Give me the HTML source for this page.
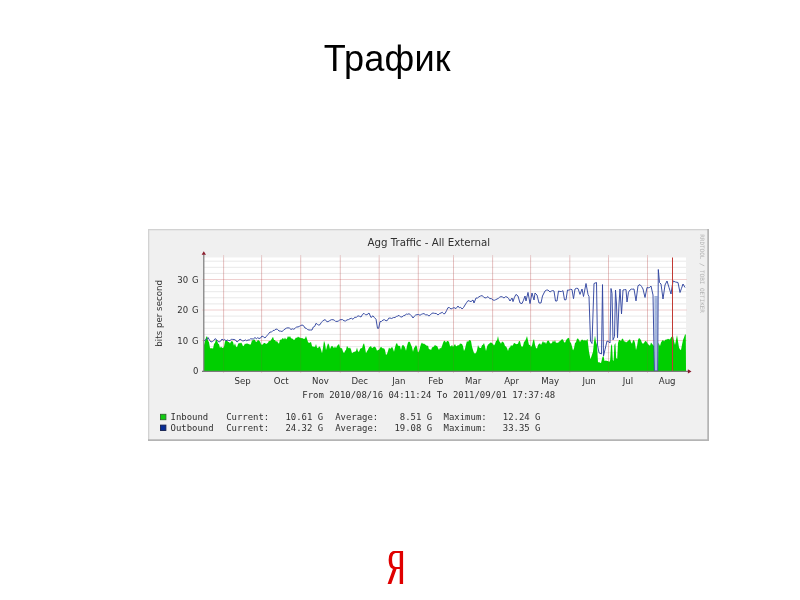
<!DOCTYPE html>
<html lang="ru"><head><meta charset="utf-8"><title>Трафик</title>
<style>
html,body{margin:0;padding:0;background:#fff;}
body{width:800px;height:600px;position:relative;overflow:hidden;font-family:"Liberation Sans",sans-serif;}
.title{position:absolute;left:0;top:38.9px;width:774.6px;text-align:center;font-size:36.1px;letter-spacing:0.2px;line-height:40px;color:#000;white-space:nowrap;}
.logo{position:absolute;left:374.9px;top:542.2px;width:40px;height:54px;text-align:center;font-family:'DejaVu Sans','Liberation Sans',sans-serif;font-weight:200;font-size:44px;line-height:54px;color:#e00000;transform:scaleX(0.63);transform-origin:50% 50%;text-shadow:1px 0 0 #e00000,2px 0 0 #e00000,3px 0 0 #e00000;}
</style></head><body>
<div class="title">Трафик</div>
<svg width="800" height="600" viewBox="0 0 800 600" style="position:absolute;left:0;top:0;filter:blur(0.3px)">
<rect x="148" y="229" width="561" height="212" fill="#b4b4b4"/>
<rect x="148" y="229" width="559.2" height="210.2" fill="#d2d2d2"/>
<rect x="149.3" y="230.3" width="557.9" height="208.9" fill="#f0f0f0"/>
<rect x="204" y="257.5" width="482" height="113.5" fill="#ffffff"/>
<line x1="204" y1="364.90" x2="686" y2="364.90" stroke="#e9e9e9" stroke-width="1"/>
<line x1="204" y1="358.80" x2="686" y2="358.80" stroke="#e9e9e9" stroke-width="1"/>
<line x1="204" y1="352.70" x2="686" y2="352.70" stroke="#e9e9e9" stroke-width="1"/>
<line x1="204" y1="346.60" x2="686" y2="346.60" stroke="#e9e9e9" stroke-width="1"/>
<line x1="204" y1="334.40" x2="686" y2="334.40" stroke="#e9e9e9" stroke-width="1"/>
<line x1="204" y1="328.30" x2="686" y2="328.30" stroke="#e9e9e9" stroke-width="1"/>
<line x1="204" y1="322.20" x2="686" y2="322.20" stroke="#e9e9e9" stroke-width="1"/>
<line x1="204" y1="316.10" x2="686" y2="316.10" stroke="#e9e9e9" stroke-width="1"/>
<line x1="204" y1="303.90" x2="686" y2="303.90" stroke="#e9e9e9" stroke-width="1"/>
<line x1="204" y1="297.80" x2="686" y2="297.80" stroke="#e9e9e9" stroke-width="1"/>
<line x1="204" y1="291.70" x2="686" y2="291.70" stroke="#e9e9e9" stroke-width="1"/>
<line x1="204" y1="285.60" x2="686" y2="285.60" stroke="#e9e9e9" stroke-width="1"/>
<line x1="204" y1="273.40" x2="686" y2="273.40" stroke="#e9e9e9" stroke-width="1"/>
<line x1="204" y1="267.30" x2="686" y2="267.30" stroke="#e9e9e9" stroke-width="1"/>
<line x1="204" y1="261.20" x2="686" y2="261.20" stroke="#e9e9e9" stroke-width="1"/>
<line x1="202" y1="340.50" x2="687" y2="340.50" stroke="#f0d0d0" stroke-width="1"/>
<line x1="202" y1="310.00" x2="687" y2="310.00" stroke="#f0d0d0" stroke-width="1"/>
<line x1="202" y1="279.50" x2="687" y2="279.50" stroke="#f0d0d0" stroke-width="1"/>
<line x1="223.60" y1="255" x2="223.60" y2="373" stroke="#c85050" stroke-opacity="0.26" stroke-width="0.9"/>
<line x1="261.60" y1="255" x2="261.60" y2="373" stroke="#c85050" stroke-opacity="0.26" stroke-width="0.9"/>
<line x1="300.70" y1="255" x2="300.70" y2="373" stroke="#c85050" stroke-opacity="0.26" stroke-width="0.9"/>
<line x1="340.30" y1="255" x2="340.30" y2="373" stroke="#c85050" stroke-opacity="0.26" stroke-width="0.9"/>
<line x1="379.20" y1="255" x2="379.20" y2="373" stroke="#c85050" stroke-opacity="0.26" stroke-width="0.9"/>
<line x1="418.30" y1="255" x2="418.30" y2="373" stroke="#c85050" stroke-opacity="0.26" stroke-width="0.9"/>
<line x1="453.50" y1="255" x2="453.50" y2="373" stroke="#c85050" stroke-opacity="0.26" stroke-width="0.9"/>
<line x1="492.60" y1="255" x2="492.60" y2="373" stroke="#c85050" stroke-opacity="0.26" stroke-width="0.9"/>
<line x1="530.60" y1="255" x2="530.60" y2="373" stroke="#c85050" stroke-opacity="0.26" stroke-width="0.9"/>
<line x1="569.80" y1="255" x2="569.80" y2="373" stroke="#c85050" stroke-opacity="0.26" stroke-width="0.9"/>
<line x1="608.50" y1="255" x2="608.50" y2="373" stroke="#c85050" stroke-opacity="0.26" stroke-width="0.9"/>
<line x1="647.50" y1="255" x2="647.50" y2="373" stroke="#c85050" stroke-opacity="0.26" stroke-width="0.9"/>
<path d="M204.0,345.0 L205.0,341.3 L206.0,337.6 L207.0,336.0 L208.0,340.6 L209.0,342.3 L210.0,348.0 L211.0,348.4 L212.0,347.9 L213.0,348.7 L214.0,343.9 L215.0,342.7 L216.0,339.7 L217.0,339.9 L218.0,343.6 L219.0,344.2 L220.0,348.0 L221.0,346.4 L222.0,347.7 L223.0,348.0 L224.0,346.8 L225.0,341.5 L226.0,340.5 L227.0,339.9 L228.0,342.0 L229.0,342.0 L230.0,343.5 L231.0,341.6 L232.0,341.0 L233.0,342.0 L234.0,345.7 L235.0,343.3 L236.0,346.5 L237.0,347.2 L238.0,344.2 L239.0,342.8 L240.0,343.5 L241.0,342.5 L242.0,343.7 L243.0,346.3 L244.0,345.5 L245.0,343.4 L246.0,344.2 L247.0,343.0 L248.0,344.2 L249.0,343.8 L250.0,345.0 L251.0,343.7 L252.0,340.3 L253.0,340.5 L254.0,339.2 L255.0,340.3 L256.0,342.0 L257.0,341.6 L258.0,339.7 L259.0,340.7 L260.0,341.6 L261.0,344.0 L262.0,345.0 L263.0,344.1 L264.0,342.9 L265.0,343.0 L266.0,344.1 L267.0,343.6 L268.0,342.7 L269.0,340.8 L270.0,341.2 L271.0,340.0 L272.0,338.5 L273.0,336.7 L274.0,339.9 L275.0,340.0 L276.0,341.8 L277.0,341.0 L278.0,342.7 L279.0,343.7 L280.0,339.4 L281.0,340.0 L282.0,338.7 L283.0,338.0 L284.0,339.5 L285.0,337.6 L286.0,339.5 L287.0,338.6 L288.0,335.9 L289.0,337.5 L290.0,336.0 L291.0,338.3 L292.0,338.5 L293.0,339.0 L294.0,340.3 L295.0,339.0 L296.0,337.4 L297.0,338.1 L298.0,336.5 L299.0,337.4 L300.0,337.5 L301.0,338.2 L302.0,338.0 L303.0,338.5 L304.0,339.0 L305.0,338.6 L306.0,336.0 L307.0,338.9 L308.0,342.0 L309.0,342.9 L310.0,342.5 L311.0,342.1 L312.0,346.1 L313.0,346.7 L314.0,346.4 L315.0,346.9 L316.0,344.0 L317.0,347.4 L318.0,348.3 L319.0,346.6 L320.0,346.7 L321.0,349.5 L322.0,353.3 L323.0,347.7 L324.0,340.8 L325.0,343.5 L326.0,350.0 L327.0,346.5 L328.0,343.3 L329.0,344.8 L330.0,349.0 L331.0,346.7 L332.0,345.7 L333.0,346.7 L334.0,348.3 L335.0,346.3 L336.0,348.3 L337.0,345.9 L338.0,345.0 L339.0,344.0 L340.0,347.6 L341.0,348.3 L342.0,348.3 L343.0,351.4 L344.0,353.3 L345.0,351.0 L346.0,349.8 L347.0,345.8 L348.0,347.6 L349.0,348.4 L350.0,347.5 L351.0,349.5 L352.0,353.3 L353.0,352.4 L354.0,351.7 L355.0,351.7 L356.0,351.1 L357.0,347.5 L358.0,351.4 L359.0,351.7 L360.0,349.2 L361.0,348.1 L362.0,348.3 L363.0,344.7 L364.0,343.3 L365.0,347.2 L366.0,353.3 L367.0,351.3 L368.0,349.8 L369.0,347.5 L370.0,346.8 L371.0,346.0 L372.0,348.3 L373.0,347.4 L374.0,346.7 L375.0,346.7 L376.0,348.1 L377.0,350.7 L378.0,350.0 L379.0,349.7 L380.0,347.9 L381.0,346.7 L382.0,347.7 L383.0,348.5 L384.0,348.3 L385.0,349.9 L386.0,355.0 L387.0,354.1 L388.0,351.1 L389.0,347.5 L390.0,348.7 L391.0,348.2 L392.0,346.7 L393.0,348.8 L394.0,351.7 L395.0,347.4 L396.0,344.0 L397.0,343.0 L398.0,345.7 L399.0,345.8 L400.0,346.1 L401.0,350.0 L402.0,345.8 L403.0,345.0 L404.0,345.8 L405.0,347.5 L406.0,350.8 L407.0,346.0 L408.0,342.5 L409.0,341.5 L410.0,342.2 L411.0,345.0 L412.0,347.0 L413.0,351.7 L414.0,347.9 L415.0,346.7 L416.0,345.0 L417.0,346.9 L418.0,352.5 L419.0,351.2 L420.0,347.3 L421.0,344.0 L422.0,342.6 L423.0,344.0 L424.0,343.5 L425.0,344.4 L426.0,345.0 L427.0,346.0 L428.0,345.5 L429.0,349.4 L430.0,349.0 L431.0,350.3 L432.0,347.5 L433.0,347.0 L434.0,346.6 L435.0,344.7 L436.0,346.0 L437.0,345.7 L438.0,348.0 L439.0,350.0 L440.0,347.7 L441.0,348.6 L442.0,346.0 L443.0,343.0 L444.0,340.8 L445.0,341.0 L446.0,342.8 L447.0,341.1 L448.0,341.0 L449.0,342.1 L450.0,346.0 L451.0,346.5 L452.0,344.8 L453.0,347.0 L454.0,345.6 L455.0,344.0 L456.0,346.2 L457.0,346.1 L458.0,345.0 L459.0,345.5 L460.0,343.5 L461.0,343.7 L462.0,344.0 L463.0,346.2 L464.0,351.0 L465.0,348.8 L466.0,344.5 L467.0,341.0 L468.0,342.1 L469.0,340.3 L470.0,339.9 L471.0,341.0 L472.0,346.7 L473.0,350.0 L474.0,352.9 L475.0,353.4 L476.0,353.0 L477.0,350.2 L478.0,345.0 L479.0,347.3 L480.0,348.0 L481.0,348.0 L482.0,345.2 L483.0,344.7 L484.0,343.0 L485.0,346.4 L486.0,351.0 L487.0,346.8 L488.0,344.4 L489.0,344.0 L490.0,342.8 L491.0,342.4 L492.0,343.0 L493.0,344.1 L494.0,345.5 L495.0,344.0 L496.0,341.1 L497.0,340.4 L498.0,336.0 L499.0,341.0 L500.0,342.0 L501.0,343.8 L502.0,341.5 L503.0,342.0 L504.0,342.9 L505.0,346.0 L506.0,346.6 L507.0,348.1 L508.0,351.0 L509.0,347.8 L510.0,347.5 L511.0,345.0 L512.0,345.9 L513.0,345.0 L514.0,343.0 L515.0,343.3 L516.0,344.3 L517.0,344.0 L518.0,343.7 L519.0,341.0 L520.0,341.3 L521.0,345.6 L522.0,347.0 L523.0,346.1 L524.0,342.0 L525.0,341.1 L526.0,339.0 L527.0,336.0 L528.0,340.4 L529.0,345.0 L530.0,344.7 L531.0,347.0 L532.0,345.5 L533.0,341.0 L534.0,339.0 L535.0,344.7 L536.0,348.0 L537.0,348.6 L538.0,344.9 L539.0,344.0 L540.0,343.3 L541.0,345.1 L542.0,343.0 L543.0,341.0 L544.0,342.9 L545.0,341.7 L546.0,344.0 L547.0,341.5 L548.0,340.6 L549.0,341.0 L550.0,343.3 L551.0,343.6 L552.0,343.0 L553.0,340.6 L554.0,342.3 L555.0,340.0 L556.0,342.9 L557.0,342.6 L558.0,343.0 L559.0,341.4 L560.0,341.2 L561.0,340.0 L562.0,339.2 L563.0,339.4 L564.0,342.0 L565.0,342.8 L566.0,340.4 L567.0,338.7 L568.0,338.3 L569.0,337.7 L570.0,342.1 L571.0,343.0 L572.0,346.5 L573.0,350.6 L574.0,348.3 L575.0,343.0 L576.0,342.2 L577.0,338.7 L578.0,338.6 L579.0,339.9 L580.0,342.0 L581.0,340.5 L582.0,339.6 L583.0,340.0 L584.0,340.7 L585.0,339.7 L586.0,341.0 L587.5,338.7 L589.0,351.7 L590.5,359.3 L591.8,355.2 L593.0,351.7 L594.0,342.1 L595.0,335.5 L596.0,341.9 L597.0,345.0 L598.0,362.5 L599.0,362.1 L600.0,362.7 L601.0,363.0 L602.5,357.0 L603.5,356.0 L604.5,361.0 L606.0,360.5 L607.0,361.1 L608.0,361.0 L609.3,362.0 L610.2,360.0 L611.0,346.0 L612.0,344.0 L612.8,360.0 L613.6,361.0 L614.4,345.0 L615.4,343.0 L616.2,358.0 L617.2,359.0 L618.0,343.0 L619.0,340.0 L620.0,340.0 L621.0,341.2 L622.0,338.8 L623.0,338.7 L624.0,341.6 L625.0,341.2 L626.0,342.5 L627.0,341.8 L628.0,340.9 L629.0,340.0 L630.0,339.3 L631.0,342.2 L632.0,343.7 L633.0,340.6 L634.0,340.0 L635.0,343.0 L636.0,350.0 L637.0,346.2 L638.0,340.0 L639.0,338.0 L640.0,338.7 L641.0,340.3 L642.0,342.9 L643.0,343.7 L644.0,343.0 L645.0,341.2 L646.0,341.0 L647.0,342.4 L648.0,343.9 L649.0,345.0 L650.0,345.7 L651.0,342.6 L652.0,343.7 L653.0,345.1 L654.0,346.0 L654.4,371.0 L658.0,371.0 L658.3,342.5 L660.0,346.0 L661.0,342.5 L662.0,341.0 L663.0,339.8 L664.0,341.4 L665.0,340.0 L666.0,339.6 L667.0,339.4 L668.0,338.7 L669.0,339.3 L670.0,339.5 L671.0,337.5 L672.0,336.5 L673.0,336.0 L674.0,341.0 L675.0,345.0 L676.0,340.0 L677.0,335.0 L678.0,341.3 L679.0,347.5 L680.0,349.5 L681.0,350.0 L682.0,344.8 L683.0,340.0 L684.0,337.4 L685.0,334.5 L685.8,334.5 L686.0,371.0 L204.0,371.0 Z" fill="#00cf00"/>
<line x1="223.60" y1="257.5" x2="223.60" y2="371" stroke="#a04040" stroke-opacity="0.16" stroke-width="0.9"/>
<line x1="261.60" y1="257.5" x2="261.60" y2="371" stroke="#a04040" stroke-opacity="0.16" stroke-width="0.9"/>
<line x1="300.70" y1="257.5" x2="300.70" y2="371" stroke="#a04040" stroke-opacity="0.16" stroke-width="0.9"/>
<line x1="340.30" y1="257.5" x2="340.30" y2="371" stroke="#a04040" stroke-opacity="0.16" stroke-width="0.9"/>
<line x1="379.20" y1="257.5" x2="379.20" y2="371" stroke="#a04040" stroke-opacity="0.16" stroke-width="0.9"/>
<line x1="418.30" y1="257.5" x2="418.30" y2="371" stroke="#a04040" stroke-opacity="0.16" stroke-width="0.9"/>
<line x1="453.50" y1="257.5" x2="453.50" y2="371" stroke="#a04040" stroke-opacity="0.16" stroke-width="0.9"/>
<line x1="492.60" y1="257.5" x2="492.60" y2="371" stroke="#a04040" stroke-opacity="0.16" stroke-width="0.9"/>
<line x1="530.60" y1="257.5" x2="530.60" y2="371" stroke="#a04040" stroke-opacity="0.16" stroke-width="0.9"/>
<line x1="569.80" y1="257.5" x2="569.80" y2="371" stroke="#a04040" stroke-opacity="0.16" stroke-width="0.9"/>
<line x1="608.50" y1="257.5" x2="608.50" y2="371" stroke="#a04040" stroke-opacity="0.16" stroke-width="0.9"/>
<line x1="647.50" y1="257.5" x2="647.50" y2="371" stroke="#a04040" stroke-opacity="0.16" stroke-width="0.9"/>
<rect x="654.4" y="296" width="3.3" height="75" fill="#a4b6dc"/>
<path d="M204.0,341.0 L205.3,339.8 L206.7,339.5 L208.0,337.5 L209.5,340.1 L211.0,342.0 L212.3,341.6 L213.7,340.6 L215.0,338.7 L216.3,339.4 L217.7,341.0 L219.0,342.0 L220.5,341.3 L222.0,339.0 L223.3,340.2 L224.7,339.5 L226.0,340.8 L227.3,340.0 L228.7,340.5 L230.0,340.5 L231.3,339.4 L232.7,339.4 L234.0,339.5 L235.5,340.0 L237.0,342.0 L238.5,340.8 L240.0,339.0 L241.3,340.1 L242.7,340.9 L244.0,340.8 L245.3,339.9 L246.7,340.7 L248.0,340.0 L249.3,340.0 L250.7,338.7 L252.0,339.0 L253.5,338.9 L255.0,337.5 L256.3,338.7 L257.7,337.7 L259.0,338.5 L260.5,338.1 L262.0,336.0 L263.5,336.8 L265.0,338.0 L266.5,336.2 L268.0,334.5 L270.0,332.0 L271.5,332.1 L273.0,330.5 L274.5,330.3 L276.0,329.0 L277.5,329.4 L279.0,331.0 L280.5,331.1 L282.0,331.5 L283.5,330.3 L285.0,329.0 L286.5,328.1 L288.0,327.8 L289.5,328.1 L291.0,329.5 L292.3,328.8 L293.7,329.2 L295.0,328.5 L296.5,326.9 L298.0,327.0 L299.3,326.4 L300.7,325.6 L302.0,325.0 L303.5,325.6 L305.0,328.0 L306.3,328.4 L307.7,329.6 L309.0,330.0 L310.5,330.0 L312.0,330.0 L313.3,327.0 L314.7,326.4 L316.0,323.3 L317.3,324.3 L318.7,325.1 L320.0,324.7 L321.3,322.4 L322.7,321.1 L324.0,320.0 L325.3,319.7 L326.7,321.6 L328.0,321.7 L329.7,320.6 L331.3,319.7 L333.0,319.7 L334.3,320.1 L335.7,321.5 L337.0,321.3 L338.3,321.3 L339.7,319.8 L341.0,319.7 L342.5,319.6 L344.0,320.8 L345.5,321.0 L347.0,319.9 L348.5,319.6 L350.0,318.7 L351.5,318.3 L353.0,319.3 L354.7,317.3 L356.3,317.3 L358.0,315.8 L359.5,316.3 L361.0,317.0 L362.5,314.4 L364.0,313.3 L365.5,314.8 L367.0,314.7 L369.0,313.0 L371.0,317.5 L373.0,315.8 L374.5,317.7 L376.0,319.2 L377.5,328.3 L378.7,328.3 L380.0,321.7 L381.5,321.4 L383.0,320.0 L384.5,319.7 L386.0,320.8 L387.3,320.5 L388.7,318.2 L390.0,318.0 L391.7,318.5 L393.3,317.6 L395.0,317.5 L396.3,316.5 L397.7,316.1 L399.0,315.3 L400.5,316.9 L402.0,317.0 L403.5,315.7 L405.0,315.3 L406.3,314.1 L407.7,314.3 L409.0,313.7 L410.3,314.7 L411.7,315.9 L413.0,318.0 L414.3,316.3 L415.7,315.0 L417.0,314.7 L418.5,314.5 L420.0,315.3 L421.3,314.4 L422.7,313.8 L424.0,313.6 L425.7,314.9 L427.3,314.8 L429.0,316.0 L430.3,315.0 L431.7,313.4 L433.0,313.0 L434.7,313.4 L436.3,313.5 L438.0,315.0 L439.5,313.6 L441.0,313.0 L442.3,312.3 L443.7,313.8 L445.0,313.6 L446.5,310.7 L448.0,307.6 L449.5,307.7 L451.0,309.0 L452.5,308.3 L454.0,307.6 L456.0,308.6 L458.0,306.0 L459.3,307.8 L460.7,307.3 L462.0,309.0 L463.5,307.6 L465.0,305.0 L466.5,302.7 L468.0,300.6 L469.5,301.1 L471.0,301.6 L473.0,300.0 L474.0,303.0 L476.0,298.0 L477.5,298.0 L479.0,296.8 L480.5,296.0 L482.0,295.6 L483.5,296.8 L485.0,298.0 L486.5,297.6 L488.0,296.6 L489.7,298.6 L491.3,298.6 L493.0,300.0 L494.3,300.3 L495.7,299.7 L497.0,299.0 L498.3,298.4 L499.7,297.2 L501.0,296.6 L502.5,297.0 L504.0,298.0 L505.5,296.7 L507.0,297.0 L508.5,298.3 L510.0,301.0 L512.0,298.0 L513.0,301.6 L514.5,297.2 L516.0,294.4 L518.0,296.0 L520.0,303.0 L522.0,303.6 L523.5,300.2 L525.0,296.0 L526.0,301.0 L528.0,292.4 L530.0,303.6 L532.0,293.0 L534.0,300.0 L535.0,293.0 L537.0,295.0 L539.0,303.0 L541.0,303.0 L542.5,296.0 L545.0,291.0 L546.5,290.1 L548.0,290.0 L550.0,292.0 L551.3,291.1 L552.7,290.6 L554.0,291.0 L555.5,301.0 L557.0,301.0 L558.5,291.0 L560.0,291.5 L561.5,291.5 L563.0,290.7 L564.5,299.8 L566.0,299.8 L567.5,290.0 L569.0,290.2 L570.5,289.3 L572.0,289.6 L573.5,298.7 L575.0,289.0 L576.5,288.3 L578.0,288.5 L580.0,294.4 L582.0,289.0 L583.5,296.5 L586.0,283.5 L588.0,294.4 L589.0,296.5 L590.5,341.0 L592.0,343.5 L594.0,283.5 L596.5,282.5 L597.5,345.0 L599.0,352.8 L601.5,354.0 L602.5,284.6 L603.5,356.0 L605.0,349.6 L607.0,341.0 L608.5,341.6 L610.0,343.0 L611.0,288.5 L612.0,293.3 L613.0,339.8 L614.5,336.6 L615.5,290.0 L616.5,304.0 L617.5,337.7 L619.0,304.0 L620.0,289.0 L621.5,313.9 L623.0,290.0 L624.5,289.7 L626.0,289.6 L627.0,302.0 L628.5,292.2 L630.0,290.0 L631.3,289.1 L632.7,289.2 L634.0,289.0 L636.0,300.9 L638.0,285.7 L640.0,284.6 L641.5,286.4 L643.0,289.0 L645.0,297.5 L647.0,287.5 L648.3,287.8 L649.7,287.4 L651.0,286.0 L653.0,295.0 L654.4,371.0 L657.7,371.0 L658.3,269.5 L659.5,282.5 L661.0,284.0 L663.0,299.0 L665.0,285.0 L667.0,281.0 L669.0,287.5 L671.0,294.0 L673.0,281.0 L675.5,282.0 L678.0,282.5 L680.0,292.5 L681.5,288.3 L683.0,284.0 L685.0,287.5" fill="none" stroke="#3347a0" stroke-width="0.95" stroke-linejoin="round"/>
<line x1="672.5" y1="257.5" x2="672.5" y2="371" stroke="#c23a34" stroke-width="1"/>
<line x1="203.8" y1="254.5" x2="203.8" y2="371.5" stroke="#7a7a7a" stroke-width="1.2"/>
<line x1="202" y1="371.4" x2="690" y2="371.4" stroke="#7a7a7a" stroke-width="1.2"/>
<path d="M203.8,251.2 l-2.2,3.6 h4.4 z" fill="#8a1c2c"/>
<path d="M691.5,371.4 l-3.6,-2.2 v4.4 z" fill="#8a1c2c"/>
<g font-family="'DejaVu Sans','Liberation Sans',sans-serif" fill="#303030">
<text x="428.8" y="245.7" font-size="10.25" text-anchor="middle">Agg Traffic - All External</text>
<text x="198.5" y="374.1" font-size="8.5" word-spacing="1.1" text-anchor="end">0</text>
<text x="198.5" y="343.6" font-size="8.5" word-spacing="1.1" text-anchor="end">10 G</text>
<text x="198.5" y="313.1" font-size="8.5" word-spacing="1.1" text-anchor="end">20 G</text>
<text x="198.5" y="282.6" font-size="8.5" word-spacing="1.1" text-anchor="end">30 G</text>
<text x="242.6" y="384.3" font-size="8.6" text-anchor="middle">Sep</text>
<text x="281.1" y="384.3" font-size="8.6" text-anchor="middle">Oct</text>
<text x="320.5" y="384.3" font-size="8.6" text-anchor="middle">Nov</text>
<text x="359.8" y="384.3" font-size="8.6" text-anchor="middle">Dec</text>
<text x="398.8" y="384.3" font-size="8.6" text-anchor="middle">Jan</text>
<text x="435.9" y="384.3" font-size="8.6" text-anchor="middle">Feb</text>
<text x="473.1" y="384.3" font-size="8.6" text-anchor="middle">Mar</text>
<text x="511.6" y="384.3" font-size="8.6" text-anchor="middle">Apr</text>
<text x="550.2" y="384.3" font-size="8.6" text-anchor="middle">May</text>
<text x="589.1" y="384.3" font-size="8.6" text-anchor="middle">Jun</text>
<text x="628.0" y="384.3" font-size="8.6" text-anchor="middle">Jul</text>
<text x="667.2" y="384.3" font-size="8.6" text-anchor="middle">Aug</text>
<text transform="translate(162,313.3) rotate(-90)" font-size="8.7" text-anchor="middle">bits per second</text>
<text transform="translate(699.6,234.3) rotate(90)" font-family="'DejaVu Sans Mono','Liberation Mono',monospace" font-size="5.95" fill="#b2b2b2">RRDTOOL / TOBI OETIKER</text>
</g>
<g font-family="'DejaVu Sans Mono','Liberation Mono',monospace" font-size="8.95" fill="#303030" style="white-space:pre">
<text xml:space="preserve" x="302.3" y="398.3">From 2010/08/16 04:11:24 To 2011/09/01 17:37:48</text>
<text xml:space="preserve" x="170.5" y="420.1">Inbound</text>
<text xml:space="preserve" x="226.2" y="420.1">Current:   10.61 G</text>
<text xml:space="preserve" x="335.2" y="420.1">Average:    8.51 G</text>
<text xml:space="preserve" x="443.6" y="420.1">Maximum:   12.24 G</text>
<text xml:space="preserve" x="170.5" y="431.4">Outbound</text>
<text xml:space="preserve" x="226.2" y="431.4">Current:   24.32 G</text>
<text xml:space="preserve" x="335.2" y="431.4">Average:   19.08 G</text>
<text xml:space="preserve" x="443.6" y="431.4">Maximum:   33.35 G</text>
</g>
<rect x="160.5" y="414.3" width="5.4" height="5.4" fill="#10cc10" stroke="#2c6a2c" stroke-width="0.9"/>
<rect x="160.5" y="425.1" width="5.4" height="5.4" fill="#062c96" stroke="#14204c" stroke-width="0.9"/>
</svg>
<div class="logo">Я</div>
</body></html>
